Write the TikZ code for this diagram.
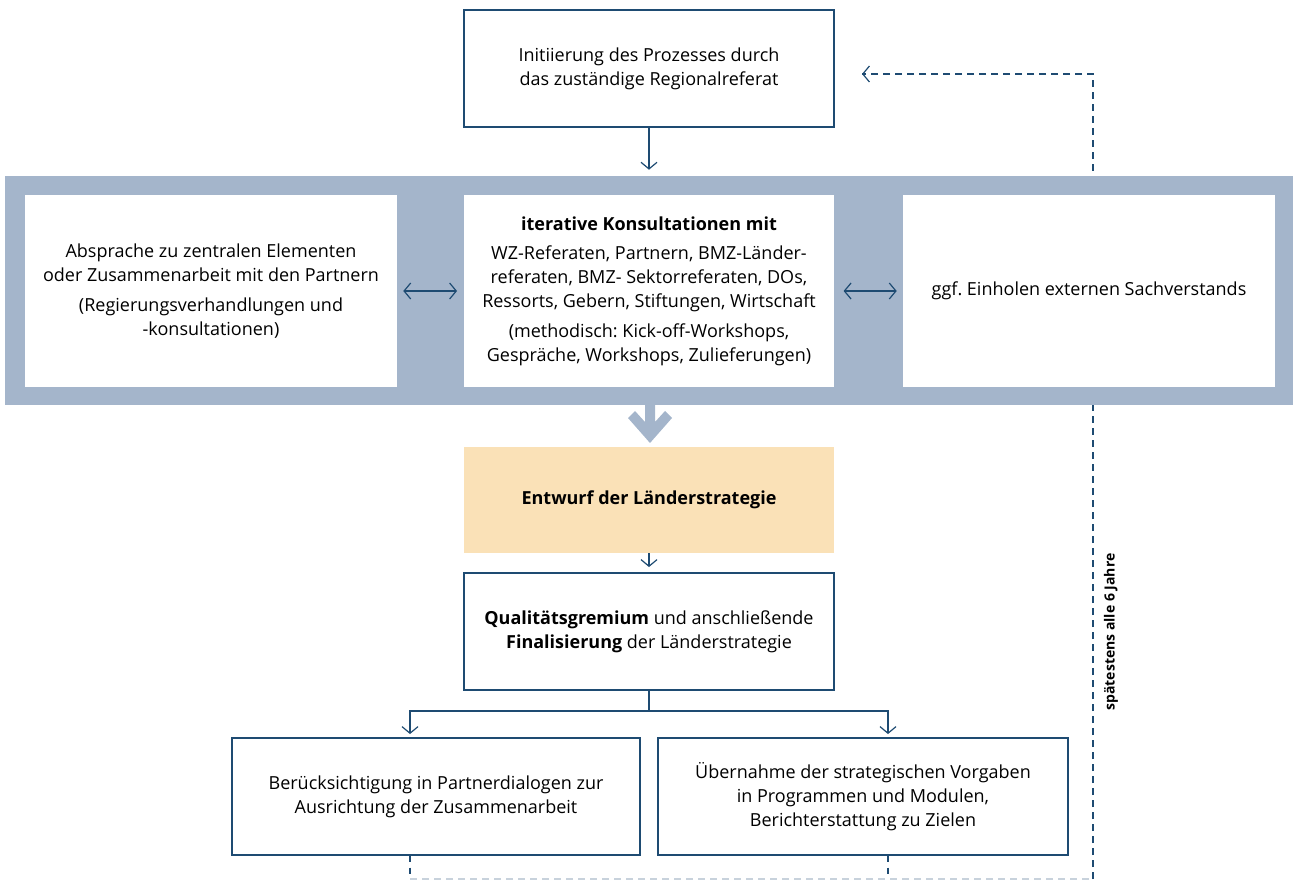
\documentclass[tikz,border=0pt]{standalone}
\usepackage{fontspec}
\setmainfont{Open Sans}
\usetikzlibrary{arrows.meta}
\usetikzlibrary{calc}
\frenchspacing

\definecolor{navy}{RGB}{30,75,114}
\definecolor{bandblue}{RGB}{164,181,203}
\definecolor{sand}{RGB}{250,225,183}
\definecolor{loopgray}{RGB}{200,210,220}

\tikzset{
  box/.style={draw=navy, line width=0.9pt, fill=white, align=center, inner sep=4pt},
  panel/.style={fill=white, align=center, inner sep=4pt},
  flow/.style={draw=navy, line width=0.9pt, -{Straight Barb[length=5pt,width=12pt]}},
  twoway/.style={draw=navy, line width=0.9pt, {Straight Barb[length=5pt,width=12pt]}-{Straight Barb[length=5pt,width=12pt]}},
  cycleline/.style={draw=navy, line width=0.9pt, dash pattern=on 5pt off 4pt},
  cyclegray/.style={draw=loopgray, line width=0.9pt, dash pattern=on 5pt off 4pt}
}

\begin{document}
\begin{tikzpicture}[x=0.75pt,y=0.75pt,yscale=-1,
    font=\fontsize{13.5}{18}\selectfont]
        \useasboundingbox (0,0) rectangle (1293,880);

        % Return loop (behind the band)
        \coordinate (loopL) at (410,879);
        \coordinate (loopR) at (888,879);
        \coordinate (loopC) at (1093,879);
        \coordinate (loopT) at (1093,74);
        \coordinate (back) at (862,74);
        \draw [cycleline] (loopC) -- (loopT) -- (back) ;
        \draw [navy, line width=0.9pt, -{Straight Barb[length=5pt,width=12pt]}] ($(back)+(1,0)$) -- (back) ;

        % Band of consultations
        \node [fill=bandblue, minimum width=966pt, minimum height=171.75pt, inner sep=0pt] (band) at (649,290.5) {};

        % Top box
        \node [box, minimum width=277.5pt, minimum height=87.75pt] (init) at (649,68.5)
            {Initiierung des Prozesses durch\\das zuständige Regionalreferat};

        % Panels inside the band
        \node [panel, minimum width=279pt, minimum height=144pt] (agree) at (211,291)
            {Absprache zu zentralen Elementen\\oder Zusammenarbeit mit den Partnern\\[4pt]
             (Regierungsverhandlungen und\\-konsultationen)};
        \node [panel, minimum width=277.5pt, minimum height=144pt] (consult) at (649,291)
            {\textbf{iterative Konsultationen mit}\\[4pt]
             WZ-Referaten, Partnern, BMZ-Länder-\\referaten, BMZ- Sektorreferaten, DOs,\\Ressorts, Gebern, Stiftungen, Wirtschaft\\[4pt]
             (methodisch: Kick-off-Workshops,\\Gespräche, Workshops, Zulieferungen)};
        \node [panel, minimum width=279pt, minimum height=144pt] (expert) at (1089,291)
            {ggf. Einholen externen Sachverstands};

        % Draft and final
        \node [fill=sand, align=center, minimum width=277.5pt, minimum height=79.5pt] (draft) at (649,500)
            {\textbf{Entwurf der Länderstrategie}};
        \node [box, minimum width=277.5pt, minimum height=87.75pt] (final) at (649,631.5)
            {\textbf{Qualitätsgremium} und anschließende\\\textbf{Finalisierung} der Länderstrategie};

        % Bottom boxes
        \node [box, minimum width=306pt, minimum height=87.75pt] (dialog) at (436,796.5)
            {Berücksichtigung in Partnerdialogen zur\\Ausrichtung der Zusammenarbeit};
        \node [box, minimum width=307.5pt, minimum height=87.75pt] (adopt) at (863,796.5)
            {Übernahme der strategischen Vorgaben\\in Programmen und Modulen,\\Berichterstattung zu Zielen};

        % Connectors
        \draw [flow, shorten >=4.5pt] (init.south) -- (init.south |- band.north) ;
        \draw [twoway, shorten <=4.5pt, shorten >=5pt] (agree.east) -- (consult.west) ;
        \draw [twoway, shorten <=7pt, shorten >=4.5pt] (consult.east) -- (expert.west) ;
        \fill [bandblue] (645,405) -- (655,405) -- (655,422) -- (665,411) -- (672,418) -- (650,443)
            -- (628,418) -- (635,411) -- (645,422) -- cycle ;
        \draw [flow, shorten >=4pt] (draft.south) -- (final.north) ;
        \coordinate (split) at (649,711);
        \draw [navy, line width=0.9pt] (final.south) -- (split) ;
        \draw [flow, shorten >=2.5pt] (split) -| (dialog.north -| loopL) ;
        \draw [flow, shorten >=2.5pt] (split) -| (adopt.north -| loopR) ;

        % Loop back
        \draw [cycleline] (dialog.south -| loopL) -- (loopL) ;
        \draw [cycleline] (adopt.south -| loopR) -- (loopR) ;
        \draw [cyclegray] (loopL) -- (loopC) ;
        \node [rotate=90, font=\fontsize{10.5}{14}\selectfont\bfseries] (period) at (1111,632) {spätestens alle 6 Jahre};

    \end{tikzpicture}
\end{document}
